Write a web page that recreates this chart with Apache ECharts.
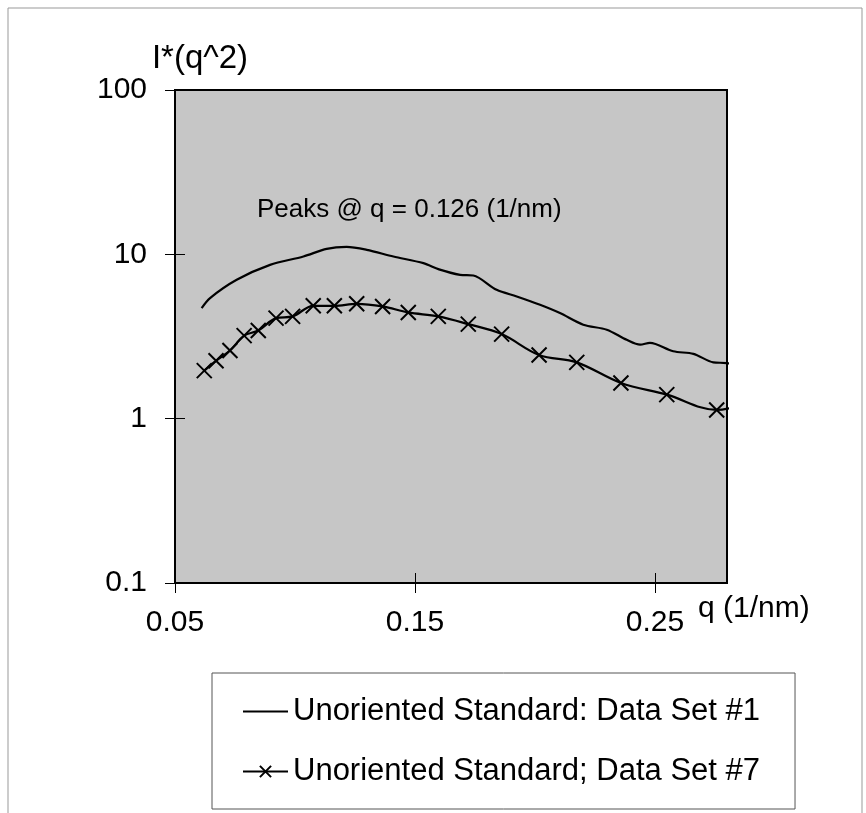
<!DOCTYPE html>
<html>
<head>
<meta charset="utf-8">
<script src="https://cdn.jsdelivr.net/npm/echarts@6/dist/echarts.min.js"></script>
<style>
  html, body { margin: 0; padding: 0; background: #fff; }
  #chart { width: 866px; height: 813px; }
</style>
</head>
<body>
<div id="chart"></div>
<script>
// data set #1 (solid line)
const qSet1 = [0.0611, 0.0646, 0.0757, 0.0896, 0.1035, 0.1132, 0.1215, 0.1299, 0.1410, 0.1535, 0.1600, 0.1688, 0.1743, 0.1840, 0.1924, 0.2021, 0.2104, 0.2201, 0.2299, 0.2382, 0.2438, 0.2479, 0.2576, 0.2660, 0.2743, 0.2799, 0.2847]
const iSet1 = [4.71, 5.42, 7.0, 8.63, 9.7, 10.8, 11.1, 10.65, 9.7, 8.84, 8.1, 7.5, 7.43, 6.08, 5.54, 4.93, 4.39, 3.73, 3.48, 3.02, 2.82, 2.89, 2.57, 2.48, 2.20, 2.18, 2.08]
// data set #7 (line with x markers), last point has no marker
const qSet7 = [0.0622, 0.0671, 0.0729, 0.0788, 0.0847, 0.0921, 0.0990, 0.1076, 0.1164, 0.1257, 0.1365, 0.1472, 0.1597, 0.1722, 0.1861, 0.2017, 0.2174, 0.2358, 0.2549, 0.2757, 0.2847]
const iSet7 = [1.96, 2.25, 2.60, 3.20, 3.44, 4.09, 4.19, 4.86, 4.86, 5.0, 4.82, 4.43, 4.19, 3.76, 3.27, 2.44, 2.20, 1.65, 1.40, 1.13, 1.19]
const xTicks = [0.05, 0.15, 0.25]
const seriesNames = ['Unoriented Standard: Data Set #1', 'Unoriented Standard; Data Set #7']
const note = 'Peaks @ q = 0.126 (1/nm)'

const FONT = 'Liberation Sans, Arial, sans-serif'
const crossPath = 'path://M0,0L16,16M16,0L0,16'

const set1 = qSet1.map((q, i) => [q, iSet1[i]])
const set7 = qSet7.map((q, i) => {
  if (i === qSet7.length - 1) return { value: [q, iSet7[i]], symbol: 'none' }
  return [q, iSet7[i]]
})

const chart = echarts.init(document.getElementById('chart'))

const option = {
  backgroundColor: '#fff',
  animation: false,
  textStyle: { fontFamily: FONT, color: '#000' },
  grid: {
    left: 175,
    top: 90,
    width: 552,
    height: 493,
    show: true,
    backgroundColor: '#c6c6c6',
    borderColor: '#000',
    borderWidth: 2
  },
  graphic: [
    {
      type: 'rect',
      shape: { x: 8, y: 8, width: 854, height: 830 },
      style: { fill: 'none', stroke: '#999', lineWidth: 1 },
      z: -10
    },
    {
      type: 'text',
      left: 257,
      top: 197,
      style: { text: note, font: '26px ' + FONT, fill: '#000' },
      z: 10
    }
  ],
  legend: {
    orient: 'vertical',
    left: 212,
    top: 673,
    padding: [23, 35, 22, 30],
    itemGap: 29,
    itemWidth: 45,
    itemHeight: 14,
    backgroundColor: '#fff',
    borderColor: '#555',
    borderWidth: 1,
    borderRadius: 0,
    textStyle: { fontSize: 31, fontFamily: FONT, color: '#000' },
    data: [
      { name: seriesNames[0], icon: 'path://M0,0H45V2H0Z' },
      { name: seriesNames[1] }
    ]
  },
  xAxis: [
    {
      type: 'value',
      min: 0.05,
      max: 0.28,
      name: 'q (1/nm)',
      nameLocation: 'end',
      nameGap: -29,
      nameTextStyle: { fontSize: 30, fontFamily: FONT, color: '#000', align: 'left', verticalAlign: 'top', padding: [11, 0, 0, 0] },
      axisLine: { show: true, lineStyle: { color: '#000', width: 2 } },
      axisTick: { show: true, length: 10, customValues: xTicks, lineStyle: { color: '#000', width: 1 } },
      axisLabel: { fontSize: 30, color: '#000', margin: 25, customValues: xTicks, formatter: v => v.toFixed(2) },
      splitLine: { show: false }
    },
    {
      type: 'value',
      position: 'bottom',
      min: 0.05,
      max: 0.28,
      axisLine: { show: false },
      axisTick: { show: true, inside: true, length: 10, customValues: xTicks, lineStyle: { color: '#000', width: 1 } },
      axisLabel: { show: false },
      splitLine: { show: false }
    }
  ],
  yAxis: [
    {
      type: 'log',
      logBase: 10,
      min: 0.1,
      max: 100,
      name: 'I*(q^2)',
      nameLocation: 'end',
      nameGap: 5,
      nameTextStyle: { fontSize: 33, fontFamily: FONT, color: '#000', padding: [0, 0, 0, 50] },
      axisLine: { show: true, lineStyle: { color: '#000', width: 2 } },
      axisTick: { show: true, length: 10, lineStyle: { color: '#000', width: 1 } },
      axisLabel: { fontSize: 30, color: '#000', margin: 28, formatter: v => String(+v.toPrecision(3)) },
      splitLine: { show: false },
      minorTick: { show: false }
    },
    {
      type: 'log',
      logBase: 10,
      position: 'left',
      min: 0.1,
      max: 100,
      axisLine: { show: false },
      axisTick: { show: true, inside: true, length: 10, lineStyle: { color: '#000', width: 1 } },
      axisLabel: { show: false },
      splitLine: { show: false }
    }
  ],
  series: [
    {
      name: seriesNames[0],
      type: 'line',
      data: set1,
      smooth: 0.3,
      symbol: 'none',
      showSymbol: false,
      clip: false,
      color: '#000',
      lineStyle: { color: '#000', width: 2.2 },
      z: 5
    },
    {
      name: seriesNames[1],
      type: 'line',
      data: set7,
      smooth: 0.35,
      symbol: crossPath,
      symbolSize: 15,
      clip: false,
      color: '#000',
      lineStyle: { color: '#000', width: 2.2 },
      itemStyle: { color: '#000', borderColor: '#000', borderWidth: 2 },
      z: 5
    }
  ]
}

chart.setOption(option)
window.onresize = () => {
  chart.resize()
}
</script>
</body>
</html>
